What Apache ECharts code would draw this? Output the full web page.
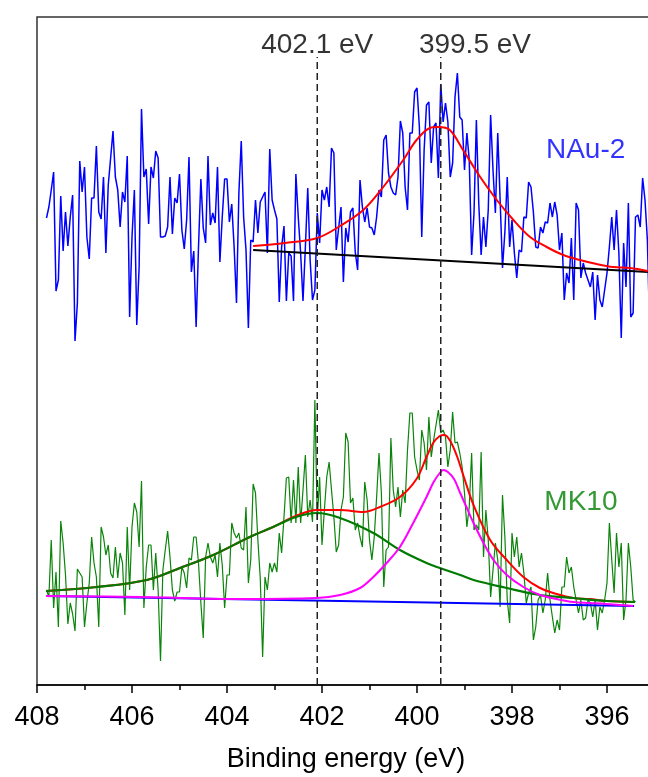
<!DOCTYPE html>
<html><head><meta charset="utf-8">
<script src="https://cdn.jsdelivr.net/npm/echarts@6/dist/echarts.min.js"></script>
<style>html,body{margin:0;padding:0;background:#fff;}#chart{width:648px;height:777px;}</style>
</head><body><div id="chart"></div>
<script>
// Binding energy grid of the measured spectra (eV)
const energyStart = 407.8;
const energyStep = 0.05;

// NAu-2 raw N 1s spectrum (a.u., offset)
const nau2Counts = [
467,478,495,513,394,405,489,434,473,439,
468,490,344,382,524,493,518,448,426,487,
487,539,473,466,508,432,500,527,554,508,
495,458,493,483,529,368,448,495,360,418,
576,508,516,461,518,507,534,527,448,448,
449,458,508,451,487,482,511,455,436,465,
528,413,434,358,438,506,457,442,529,460,
472,462,518,423,468,506,506,463,481,438,
382,492,544,468,435,357,445,443,485,452,
483,488,493,432,536,485,475,466,383,438,
459,384,432,429,384,511,468,432,384,438,
497,425,385,395,472,442,495,485,498,478,
537,532,435,457,478,403,457,443,473,477,
433,415,505,478,463,477,458,457,450,468,
495,488,545,550,512,498,492,490,508,564,
552,498,475,552,552,593,597,558,448,535,
580,583,522,558,562,507,601,563,582,563,
508,522,588,612,568,565,515,552,525,430,
472,565,482,430,468,438,475,570,515,472,
552,485,417,453,508,438,465,432,407,435,
433,468,467,503,498,473,438,437,458,452,
463,462,482,468,483,470,435,452,385,412,
402,447,385,482,475,407,422,412,405,398,
413,365,410,385,378,395,412,438,468,435,
475,432,347,442,398,482,368,372,468,470,
458,507,485,445,352];

// MK10 raw N 1s spectrum (a.u.)
const mk10Counts = [
95,88,145,77,113,58,164,142,110,61,
82,71,54,116,112,108,58,82,102,148,
122,108,58,158,148,130,140,112,107,138,
107,132,122,70,158,95,158,182,173,138,
204,77,118,140,140,95,132,95,24,115,
135,154,128,95,84,93,93,118,112,97,
127,125,148,148,122,82,47,128,142,128,
122,130,108,142,120,77,110,110,162,152,
147,152,137,135,178,102,125,201,192,145,
107,28,108,95,122,113,122,113,152,132,
168,207,208,162,205,162,218,162,195,230,
168,185,163,285,165,208,140,175,208,223,
195,168,133,140,175,188,252,243,182,187,
155,162,148,138,203,185,145,125,148,188,
232,192,98,135,138,247,195,178,198,168,
195,182,235,272,272,228,215,205,255,242,
215,268,228,245,260,275,252,255,248,218,
235,273,242,243,232,218,192,158,178,232,
155,160,155,233,128,175,145,88,115,142,
125,78,190,148,85,62,152,128,148,118,
132,112,82,92,98,45,58,85,90,72,
85,112,85,68,52,65,55,98,98,128,
112,118,98,85,72,85,65,67,85,82,
68,85,55,78,72,85,102,162,125,92,
152,118,142,65,85,142,118,85,83];

// NAu-2 fit
const nau2BaseE = [403.45, 395.14];
const nau2BaseI = [435, 413];
const nau2FitE = [403.45,402.78,402.10,401.62,401.13,400.71,400.29,400.01,399.73,399.55,399.31,399.03,398.67,398.32,397.97,397.62,397.27,396.92,396.57,396.22,395.87,395.52,395.14];
const nau2FitI = [439,442,447,459,475,498,525,545,557,558,555,535,508,485,465,448,438,430,425,421,418,417,414];

// MK10 fit
const mk10BaseE = [407.81, 395.43];
const mk10BaseI = [89, 79];
const mk10Peak1E = [407.81,406.74,405.69,404.99,404.29,403.52,403.03,402.55,402.11,401.62,400.92,400.36,399.80,399.52,399.09,398.81,398.11,397.41,396.71,396.01,395.41];
const mk10Peak1I = [94,98,105,117,130,148,158,168,172,167,152,135,122,117,110,105,97,90,87,84,83];
const mk10Peak2E = [407.81,405.8,403.73,402.11,401.62,401.20,400.92,400.64,400.36,400.08,399.80,399.65,399.52,399.45,399.35,399.22,399.10,398.95,398.81,398.60,398.39,398.11,397.76,397.41,397.06,396.71,396.36,396.01,395.45];
const mk10Peak2I = [89,88,86,87,90,97,108,122,138,162,188,203,212,215,213,206,193,177,162,142,125,110,98,90,86,83,82,81,79];
const mk10SumE = [407.81,406.74,405.69,404.99,404.29,403.52,403.03,402.55,402.11,401.62,401.13,400.78,400.36,400.01,399.80,399.66,399.52,399.42,399.30,399.16,399.02,398.81,398.46,398.11,397.76,397.41,397.06,396.71,396.36,396.01,395.45];
const mk10SumI = [94,98,105,117,130,148,158,169,175,175,173,178,188,206,228,242,249,250,244,229,209,180,145,125,108,97,91,87,86,84,83];

// Peak positions and annotations
const peakPositions = [402.1, 399.5];
const peakLabels = ['402.1 eV', '399.5 eV'];
const sampleNames = ['NAu-2', 'MK10'];
const xTicks = [394, 396, 398, 400, 402, 404, 406, 408];

const FONT = 'Liberation Sans, Arial, sans-serif';
const pairs = (E, I) => E.map((e, k) => [e, I[k]]);
const spectrum = arr => arr.map((v, i) => [+(energyStart - energyStep * i).toFixed(2), v]);

const chart = echarts.init(document.getElementById('chart'), null, {renderer: 'canvas'});

function lineSeries(data, color, width, smooth) {
  return {
    type: 'line', data: data, symbol: 'none', showSymbol: false,
    smooth: smooth ? 0.35 : false,
    lineStyle: {color: color, width: width}, emphasis: {disabled: true}, silent: true
  };
}

const series = [
  lineSeries(spectrum(nau2Counts), '#0000ff', 1.5, false),
  lineSeries(pairs(nau2BaseE, nau2BaseI), '#000000', 2, false),
  lineSeries(pairs(nau2FitE, nau2FitI), '#ff0000', 2, true),
  lineSeries(spectrum(mk10Counts), '#0a840a', 1.2, false),
  lineSeries(pairs(mk10BaseE, mk10BaseI), '#0000ff', 2, false),
  lineSeries(pairs(mk10SumE, mk10SumI), '#ff0000', 2, true),
  lineSeries(pairs(mk10Peak1E, mk10Peak1I), '#007a00', 2.2, true),
  lineSeries(pairs(mk10Peak2E, mk10Peak2I), '#ff00ff', 2, true)
];

peakPositions.forEach(p => {
  const s = lineSeries([[p, 0], [p, 628]], '#222222', 1.5, false);
  s.lineStyle.type = [7, 4];
  series.push(s);
});

series.push({
  type: 'scatter', symbolSize: 1, itemStyle: {color: 'rgba(0,0,0,0)'}, silent: true,
  label: {show: true, position: 'inside', fontFamily: FONT, fontSize: 28,
    formatter: p => p.data.name},
  data: [
    {name: peakLabels[0], value: [402.1, 640], label: {color: '#000'}},
    {name: peakLabels[1], value: [398.78, 640], label: {color: '#000'}},
    {name: sampleNames[0], value: [396.45, 535], label: {color: '#0000ff'}},
    {name: sampleNames[1], value: [396.55, 183], label: {color: '#008000'}}
  ]
});

chart.setOption({
  animation: false,
  backgroundColor: '#ffffff',
  textStyle: {fontFamily: FONT},
  grid: {left: 37, top: 17, width: 665, height: 668, show: true,
    outerBoundsMode: 'none', containLabel: false,
    borderColor: '#333', borderWidth: 1.5, backgroundColor: 'transparent'},
  xAxis: {
    type: 'value', inverse: true, min: 394, max: 408, interval: 2,
    axisLine: {show: true, lineStyle: {color: '#000', width: 1.5}},
    axisTick: {show: true, length: 8, lineStyle: {color: '#000', width: 1.5}},
    minorTick: {show: true, splitNumber: 2, length: 5, lineStyle: {color: '#000', width: 1.5}},
    splitLine: {show: false}, minorSplitLine: {show: false},
    axisLabel: {fontSize: 27, color: '#000', margin: 19, fontFamily: FONT,
      formatter: v => xTicks.includes(v) ? String(v) : ''}
  },
  yAxis: {type: 'value', min: 0, max: 668, show: false, splitLine: {show: false}},
  graphic: [{
    type: 'text', x: 346, y: 760, silent: true,
    style: {text: 'Binding energy (eV)', fontSize: 27, fontFamily: FONT, fill: '#000',
      align: 'center', verticalAlign: 'middle', textAlign: 'center', textVerticalAlign: 'middle'}
  }],
  series: series
});
</script></body></html>
